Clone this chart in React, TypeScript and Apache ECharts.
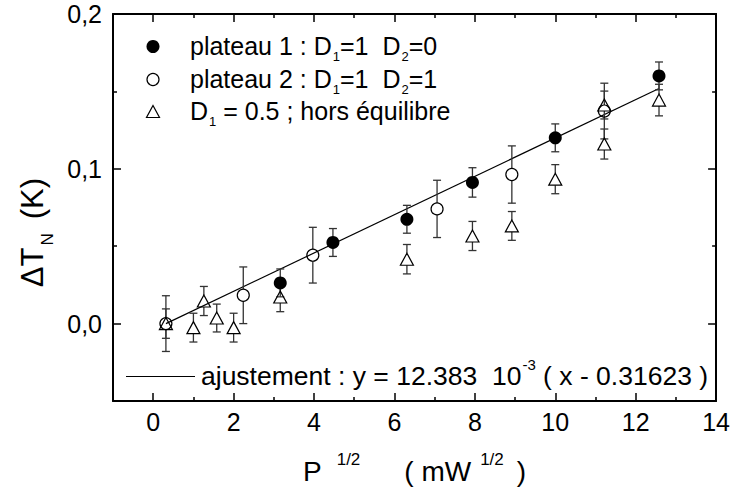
import React, { useEffect, useRef } from "react";
import * as echarts from "echarts";

// ---- data (x = P^1/2 in mW^1/2, y = ΔT_N in K, e = error bar half-height) ----
const plateau1X = [3.16, 4.47, 6.31, 7.94, 10.0, 12.58];
const plateau1Y = [0.0263, 0.0524, 0.0674, 0.0912, 0.120, 0.160];
const plateau1E = [0.009, 0.009, 0.009, 0.0095, 0.009, 0.009];

const plateau2X = [0.316, 2.24, 3.97, 7.06, 8.92, 11.22];
const plateau2Y = [0.0, 0.0183, 0.0442, 0.0741, 0.0963, 0.1373];
const plateau2E = [0.018, 0.0183, 0.018, 0.0185, 0.0185, 0.018];

const horsX = [0.316, 1.0, 1.26, 1.58, 2.0, 3.16, 6.31, 7.94, 8.92, 10.0, 11.22, 11.22, 12.58];
const horsY = [0.0, -0.0026, 0.0146, 0.0036, -0.0026, 0.0172, 0.0416, 0.0566, 0.0631, 0.0933, 0.116, 0.1412, 0.1444];
const horsE = [0.0095, 0.0093, 0.0094, 0.009, 0.0093, 0.0095, 0.0095, 0.0094, 0.0093, 0.0094, 0.0097, 0.009, 0.0102];

// fit: y = 12.383e-3 (x - 0.31623)
const fitSlope = 12.383e-3;
const fitX0 = 0.31623;
const fitRangeX = [0.31623, 12.58];

const xMajorTicks = [0, 2, 4, 6, 8, 10, 12, 14];
const xMinorTicks = [1, 3, 5, 7, 9, 11, 13];
const yMajorTicks = [0, 0.1, 0.2];
const yMinorTicks = [-0.05, 0.05, 0.15];

const FONT = "'Liberation Sans', Arial, Helvetica, sans-serif";

const zip3 = (xs: number[], ys: number[], es: number[]) => xs.map((x, i) => [x, ys[i], es[i]]);

function errorBarSeries(data: number[][], gap: number, z: number) {
  return {
    type: "custom",
    xAxisIndex: 0,
    yAxisIndex: 0,
    z,
    silent: true,
    data,
    renderItem: (params: any, api: any) => {
      const x = api.value(0);
      const y = api.value(1);
      const e = api.value(2);
      const p = api.coord([x, y]);
      const t = api.coord([x, y + e]);
      const b = api.coord([x, y - e]);
      const hw = 4;
      const st = { stroke: "#333", lineWidth: 1.3 };
      const children: any[] = [];
      if (p[1] - gap > t[1]) children.push({ type: "line", shape: { x1: p[0], y1: t[1], x2: p[0], y2: p[1] - gap }, style: st });
      if (p[1] + gap < b[1]) children.push({ type: "line", shape: { x1: p[0], y1: p[1] + gap, x2: p[0], y2: b[1] }, style: st });
      children.push({ type: "line", shape: { x1: p[0] - hw, y1: t[1], x2: p[0] + hw, y2: t[1] }, style: st });
      children.push({ type: "line", shape: { x1: p[0] - hw, y1: b[1], x2: p[0] + hw, y2: b[1] }, style: st });
      return { type: "group", children };
    },
  };
}

function axisPair(kind: "x" | "y", pos: string, major: number[], minor: number[], showLabels: boolean, extra: any) {
  const isX = kind === "x";
  const base = {
    type: "value",
    position: pos,
    min: isX ? -1 : -0.05,
    max: isX ? 14 : 0.2,
    splitLine: { show: false },
  };
  return [
    {
      ...base,
      axisLine: { show: true, onZero: false, lineStyle: { color: "#000", width: 2 } },
      axisTick: { show: true, inside: true, length: 8, customValues: major, lineStyle: { color: "#000", width: 1.5 } },
      axisLabel: showLabels
        ? {
            show: true,
            customValues: major,
            fontSize: 25,
            fontFamily: FONT,
            color: "#000",
            margin: isX ? 8 : 11,
            formatter: isX ? (v: number) => String(v) : (v: number) => v.toFixed(1).replace(".", ","),
          }
        : { show: false },
      ...extra,
    },
    {
      ...base,
      axisLine: { show: false, onZero: false },
      axisTick: { show: true, inside: true, length: 4, customValues: minor, lineStyle: { color: "#000", width: 1.5 } },
      axisLabel: { show: false },
    },
  ];
}

export default function App() {
  const ref = useRef<HTMLDivElement>(null);
  useEffect(() => {
    if (!ref.current) return;
    const chart = echarts.init(ref.current, null, { renderer: "svg" });

    const sub = { fontSize: 13, lineHeight: 13, padding: [16, 0, 0, 1], verticalAlign: "top", fontFamily: FONT, color: "#000" };
    const mainT = { fontSize: 25, lineHeight: 26, verticalAlign: "top", fontFamily: FONT, color: "#000" };
    const supT = { fontSize: 15, lineHeight: 16, padding: [0, 0, 0, 1], verticalAlign: "top", fontFamily: FONT, color: "#000" };
    const mainP = { fontSize: 26.5, lineHeight: 28, padding: [6, 0, 0, 0], verticalAlign: "top", fontFamily: FONT, color: "#000" };

    const legendRows = [46.5, 79.5, 111.5];
    const legendX = 153;
    const textX = 190;

    const fitData = fitRangeX.map((x) => [x, fitSlope * (x - fitX0)]);

    const tA = { fontSize: 28, lineHeight: 32, padding: [6, 0, 0, 0], verticalAlign: "top", fontFamily: FONT, color: "#000" };
    const option: any = {
      animation: false,
      backgroundColor: "#fff",
      grid: { left: 113, right: 13, top: 14, bottom: 96, containLabel: false },
      xAxis: [
        ...axisPair("x", "bottom", xMajorTicks, xMinorTicks, true, {
          name: "{a|P}{s|1/2}{b|(\u00a0mW}{t|1/2}{c|)}",
          nameLocation: "middle",
          nameGap: 50,
          nameTextStyle: {
            rich: {
              a: tA,
              b: { ...tA, padding: [6, 0, 0, 44] },
              c: { ...tA, padding: [6, 0, 0, 13] },
              s: { fontSize: 17, lineHeight: 18, padding: [0, 0, 0, 15], verticalAlign: "top", fontFamily: FONT, color: "#000" },
              t: { fontSize: 17, lineHeight: 18, padding: [0, 0, 0, 9], verticalAlign: "top", fontFamily: FONT, color: "#000" },
            },
          },
        }),
        ...axisPair("x", "top", xMajorTicks, xMinorTicks, false, {}),
      ],
      yAxis: [
        ...axisPair("y", "left", yMajorTicks, yMinorTicks, true, {
          name: "{a|ΔT}{s|N}{k|(K)}",
          nameLocation: "middle",
          nameRotate: 90,
          nameGap: 62,
          nameTextStyle: {
            rich: {
              a: { fontSize: 31, lineHeight: 34, verticalAlign: "top", fontFamily: FONT, color: "#000" },
              k: { fontSize: 31, lineHeight: 34, padding: [0, 50, 0, 14], verticalAlign: "top", fontFamily: FONT, color: "#000" },
              s: { fontSize: 17, lineHeight: 18, padding: [22, 0, 0, 2], verticalAlign: "top", fontFamily: FONT, color: "#000" },
            },
          },
        }),
        ...axisPair("y", "right", yMajorTicks, yMinorTicks, false, {}),
      ],
      series: [
        {
          type: "line",
          name: "ajustement",
          data: fitData,
          xAxisIndex: 0,
          yAxisIndex: 0,
          showSymbol: false,
          symbol: "none",
          lineStyle: { color: "#000", width: 1.2 },
          z: 2,
        },
        errorBarSeries(zip3(plateau1X, plateau1Y, plateau1E), 6, 3),
        errorBarSeries(zip3(plateau2X, plateau2Y, plateau2E), 6, 3),
        errorBarSeries(zip3(horsX, horsY, horsE), 6, 3),
        {
          type: "scatter",
          name: "plateau 1",
          data: plateau1X.map((x, i) => [x, plateau1Y[i]]),
          xAxisIndex: 0,
          yAxisIndex: 0,
          symbol: "circle",
          symbolSize: 13,
          itemStyle: { color: "#000", opacity: 1 },
          z: 4,
        },
        {
          type: "scatter",
          name: "plateau 2",
          data: plateau2X.map((x, i) => [x, plateau2Y[i]]),
          xAxisIndex: 0,
          yAxisIndex: 0,
          symbol: "circle",
          symbolSize: 12,
          itemStyle: { color: "rgba(0,0,0,0)", borderColor: "#000", borderWidth: 1.2, opacity: 1 },
          z: 4,
        },
        {
          type: "scatter",
          name: "hors équilibre",
          data: horsX.map((x, i) => [x, horsY[i]]),
          xAxisIndex: 0,
          yAxisIndex: 0,
          symbol: "triangle",
          symbolSize: [13, 12],
          itemStyle: { color: "rgba(0,0,0,0)", borderColor: "#000", borderWidth: 1.2, opacity: 1 },
          z: 4,
        },
      ],
      graphic: [
        { type: "circle", shape: { cx: legendX, cy: legendRows[0], r: 6.5 }, style: { fill: "#000" } },
        { type: "circle", shape: { cx: legendX, cy: legendRows[1], r: 6 }, style: { fill: "none", stroke: "#000", lineWidth: 1.2 } },
        {
          type: "polygon",
          shape: { points: [[legendX, legendRows[2] - 6], [legendX + 6.5, legendRows[2] + 6], [legendX - 6.5, legendRows[2] + 6]] },
          style: { fill: "none", stroke: "#000", lineWidth: 1.2 },
        },
        {
          type: "text",
          x: textX,
          y: legendRows[0] - 13,
          style: {
            text: "{a|plateau 1 : D}{s|1}{a|=1\u00a0\u00a0D}{s|2}{a|=0}",
            verticalAlign: "top",
            rich: { a: mainT, s: sub },
          },
        },
        {
          type: "text",
          x: textX,
          y: legendRows[1] - 13,
          style: {
            text: "{a|plateau 2 : D}{s|1}{a|=1\u00a0\u00a0D}{s|2}{a|=1}",
            verticalAlign: "top",
            rich: { a: mainT, s: sub },
          },
        },
        {
          type: "text",
          x: textX,
          y: legendRows[2] - 13,
          style: {
            text: "{a|D}{s|1}{a|\u00a0= 0.5 ; hors équilibre}",
            verticalAlign: "top",
            rich: { a: mainT, s: sub },
          },
        },
        { type: "line", shape: { x1: 126, y1: 376.5, x2: 195, y2: 376.5 }, style: { stroke: "#000", lineWidth: 1.2 } },
        {
          type: "text",
          x: 201,
          y: 376.5 - 20,
          style: {
            text: "{a|ajustement : y = 12.383\u00a0\u00a010}{p|-3}{a|\u00a0( x - 0.31623 )}",
            verticalAlign: "top",
            rich: { a: mainP, p: supT },
          },
        },
      ],
    };
    chart.setOption(option);
    return () => chart.dispose();
  }, []);
  return <div ref={ref} style={{ width: 733, height: 497, position: "absolute", left: 0, top: 0 }} />;
}
